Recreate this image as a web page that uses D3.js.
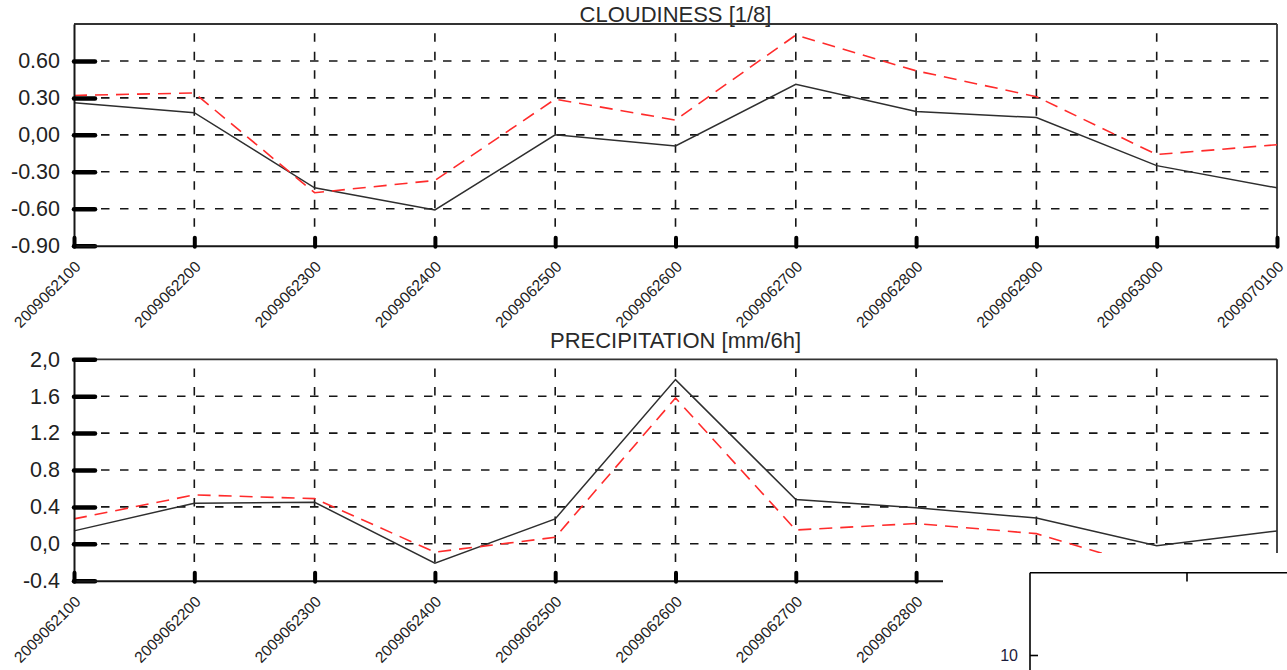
<!DOCTYPE html>
<html>
<head>
<meta charset="utf-8">
<script src="https://cdn.jsdelivr.net/npm/d3@7"></script>
<style>
  html, body { margin: 0; padding: 0; background: #fff; }
  svg { display: block; font-family: "Liberation Sans", Arial, Helvetica, sans-serif; }
</style>
</head>
<body>
<svg id="chart" width="1287" height="670"></svg>
<script>
// ---------- data ----------
const categories = ["2009062100","2009062200","2009062300","2009062400","2009062500","2009062600",
                    "2009062700","2009062800","2009062900","2009063000","2009070100"];

const cloudObs  = [0.26, 0.18, -0.43, -0.61, 0.00, -0.09, 0.41, 0.19, 0.14, -0.25, -0.43];
const cloudFc   = [0.32, 0.34, -0.47, -0.37, 0.29, 0.12, 0.81, 0.52, 0.31, -0.16, -0.08];

const precipObs = [0.14, 0.44, 0.45, -0.21, 0.27, 1.78, 0.48, 0.39, 0.28, -0.02, 0.14];
const precipFc  = [0.27, 0.53, 0.49, -0.09, 0.07, 1.58, 0.15, 0.22, 0.11, -0.28, -0.20];

const cloudTicks       = [-0.9, -0.6, -0.3, 0.0, 0.3, 0.6];
const cloudTickLabels  = ["-0.90", "-0.60", "-0.30", "0,00", "0.30", "0.60"];
const precipTicks      = [-0.4, 0.0, 0.4, 0.8, 1.2, 1.6, 2.0];
const precipTickLabels = ["-0.4", "0,0", "0.4", "0.8", "1.2", "1.6", "2,0"];

const cloudTitle  = "CLOUDINESS [1/8]";
const precipTitle = "PRECIPITATION [mm/6h]";

const insetTicks      = [10];
const insetTickLabels = ["10"];

// ---------- layout ----------
const svg = d3.select("#chart");
const X0 = 74, X1 = 1277;
const x = d3.scalePoint().domain(categories).range([X0, X1]);

const panels = [
  { title: cloudTitle, titleY: 21.5, top: 24, bottom: 245.7, domain: [-0.9, 0.9],
    ticks: cloudTicks, labels: cloudTickLabels, obs: cloudObs, fc: cloudFc },
  { title: precipTitle, titleY: 348, top: 359.3, bottom: 580.7, domain: [-0.4, 2.0],
    ticks: precipTicks, labels: precipTickLabels, obs: precipObs, fc: precipFc }
];

const INK = "#161616";

panels.forEach(p => {
  const y = d3.scaleLinear().domain(p.domain).range([p.bottom, p.top]);
  const g = svg.append("g");

  // title
  g.append("text")
    .attr("x", (X0 + X1) / 2).attr("y", p.titleY)
    .attr("text-anchor", "middle")
    .attr("font-size", 22).attr("fill", "#2a2a2a")
    .text(p.title);

  // horizontal dashed grid
  const gridY = p.ticks.filter(t => Math.abs(y(t) - p.bottom) > 2 && Math.abs(y(t) - p.top) > 2);
  g.append("g").selectAll("line").data(gridY).join("line")
    .attr("x1", X0 + 8).attr("x2", X1)
    .attr("y1", d => y(d)).attr("y2", d => y(d))
    .attr("stroke", INK).attr("stroke-width", 1.6)
    .attr("stroke-dasharray", "8.5,10.5");

  // vertical dashed grid
  const inner = categories.slice(1, -1);
  g.append("g").selectAll("line").data(inner).join("line")
    .attr("x1", d => x(d)).attr("x2", d => x(d))
    .attr("y1", p.top + 9.3).attr("y2", p.bottom)
    .attr("stroke", INK).attr("stroke-width", 1.6)
    .attr("stroke-dasharray", "8.5,10");

  // frame: top & right
  g.append("line").attr("x1", X0).attr("x2", X1).attr("y1", p.top).attr("y2", p.top)
    .attr("stroke", "#333").attr("stroke-width", 1.8);
  g.append("line").attr("x1", X1).attr("x2", X1).attr("y1", p.top).attr("y2", p.bottom)
    .attr("stroke", "#333").attr("stroke-width", 1.8);

  // data lines
  const line = d3.line().x((d, i) => x(categories[i])).y(d => y(d));
  g.append("path").datum(p.obs).attr("d", line)
    .attr("fill", "none").attr("stroke", "#2e2e2e").attr("stroke-width", 1.5);
  g.append("path").datum(p.fc).attr("d", line)
    .attr("fill", "none").attr("stroke", "#ff2b2b").attr("stroke-width", 1.6)
    .attr("stroke-dasharray", "13,8");

  // y axis (thick inward ticks)
  const yAxis = d3.axisLeft(y).tickValues(p.ticks)
    .tickFormat((d, i) => p.labels[i])
    .tickSizeInner(-21).tickSizeOuter(0).tickPadding(14);
  const ya = g.append("g").attr("transform", `translate(${X0},0)`).call(yAxis);
  ya.select(".domain").attr("stroke", INK).attr("stroke-width", 2);
  ya.selectAll(".tick line").attr("stroke", "#000").attr("stroke-width", 4.5)
    .attr("stroke-linecap", "round");
  ya.selectAll(".tick text").attr("font-size", 21.5).attr("fill", "#222")
    .attr("font-family", "Liberation Sans, Arial, sans-serif");

  // x axis (short thick inward ticks)
  const xAxis = d3.axisBottom(x).tickSizeInner(-9).tickSizeOuter(0).tickFormat("");
  const xa = g.append("g").attr("transform", `translate(0,${p.bottom})`).call(xAxis);
  xa.select(".domain").attr("stroke", INK).attr("stroke-width", 2);
  xa.selectAll(".tick line").attr("stroke", "#000").attr("stroke-width", 4)
    .attr("stroke-linecap", "round").attr("transform", "translate(0,1)");

  // rotated x labels
  g.append("g").selectAll("text").data(categories).join("text")
    .attr("transform", d => `translate(${x(d) + 7.5},${p.bottom + 22}) rotate(-45)`)
    .attr("text-anchor", "end")
    .attr("font-size", 15.5).attr("fill", "#222")
    .text(d => d);
});

// ---------- overlapping inset (partially visible second chart) ----------
const inset = svg.append("g");
inset.append("rect").attr("x", 943).attr("y", 553).attr("width", 1287 - 943).attr("height", 670 - 553)
  .attr("fill", "#fff");
const iy = d3.scaleLinear().domain([0, 10]).range([747, 655]);
const iAxis = d3.axisLeft(iy).tickValues(insetTicks).tickFormat((d, i) => insetTickLabels[i])
  .tickSizeInner(-8).tickSizeOuter(0).tickPadding(12);
const ia = inset.append("g").attr("transform", "translate(1030,0)").call(iAxis);
ia.select(".domain").remove();
ia.selectAll(".tick line").attr("stroke", "#000").attr("stroke-width", 1.6);
ia.selectAll(".tick text").attr("font-size", 16).attr("fill", "#1c1c3c")
  .attr("font-family", "Liberation Sans, Arial, sans-serif");
inset.append("line").attr("x1", 1030).attr("x2", 1030).attr("y1", 572.7).attr("y2", 670)
  .attr("stroke", "#000").attr("stroke-width", 1.6);
inset.append("line").attr("x1", 1030).attr("x2", 1287).attr("y1", 572.7).attr("y2", 572.7)
  .attr("stroke", "#000").attr("stroke-width", 1.6);
const ix = d3.scaleLinear().domain([0, 1]).range([1030, 1344]);
inset.append("line").attr("x1", ix(0.5)).attr("x2", ix(0.5)).attr("y1", 572.7).attr("y2", 581.5)
  .attr("stroke", "#000").attr("stroke-width", 1.6);
</script>
</body>
</html>
